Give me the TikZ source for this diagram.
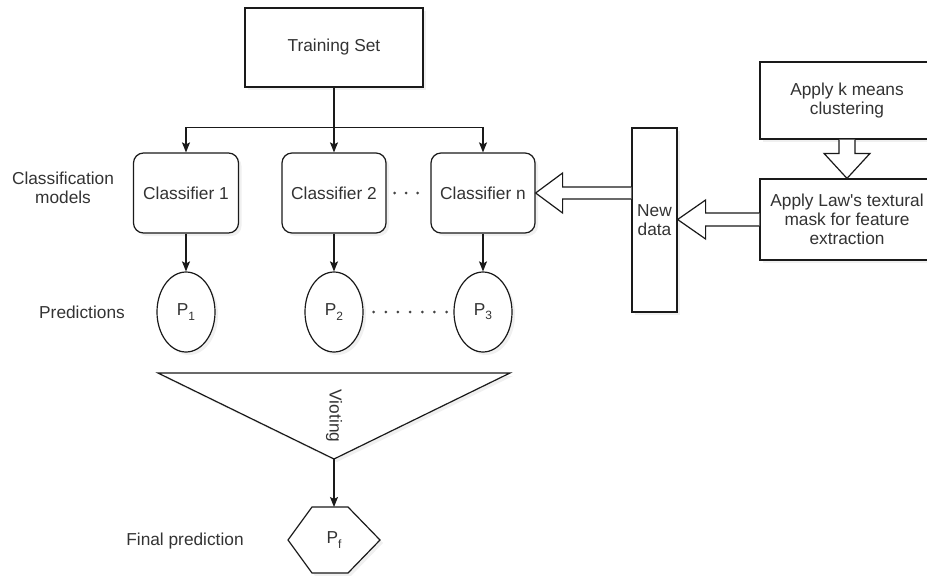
\documentclass[tikz,border=0pt]{standalone}
\usepackage{fontspec}
\setmainfont{Liberation Sans}[Ligatures=TeXOff]
\usetikzlibrary{arrows.meta,shadows,calc,shapes.geometric}
\definecolor{textc}{HTML}{333333}
\definecolor{linec}{HTML}{1A1A1A}
\definecolor{dotc}{HTML}{444444}
\newcommand\psub[1]{P\raisebox{-0.45ex}{\fontsize{12}{12}\selectfont #1}}
\begin{document}
\begin{tikzpicture}[x=1pt,y=-1pt,
  txt/.style={text=textc,font=\fontsize{17.3}{19}\selectfont},
  shad/.style={drop shadow={shadow xshift=3pt,shadow yshift=-3pt,opacity=0.12}},
  box/.style={draw=linec,line width=1.2pt,fill=white,shad,txt,align=center,inner sep=0pt},
  rbox/.style={box,rounded corners=10pt},
  ell/.style={box,ellipse},
  lbl/.style={txt,align=center},
  arr/.style={draw=linec,line width=1.2pt,-{Stealth[length=10pt,width=8pt,inset=2pt]}},
  blk/.style={draw=linec,line width=1.2pt,fill=white,line join=miter},
  dotl/.style={draw=dotc,line width=3pt,line cap=round,dash pattern=on 0pt off #1},
]
\useasboundingbox (0,0) rectangle (927,576);
\clip (0,0) rectangle (927,576);

% top box
\node[box,minimum width=178pt,minimum height=79pt] (ts) at (334,47.5) {Training Set};

% classifiers
\node[rbox,minimum width=105pt,minimum height=80pt] (c1) at (186,193) {Classifier 1};
\node[rbox,minimum width=104pt,minimum height=80pt] (c2) at (334,193) {Classifier 2};
\node[rbox,minimum width=104pt,minimum height=80pt] (cn) at (483,193) {Classifier n};

% predictions
\node[ell,minimum width=58pt,minimum height=80pt] (p1) at (186,312) {\psub{1}};
\node[ell,minimum width=58pt,minimum height=80pt] (p2) at (334,312) {\psub{2}};
\node[ell,minimum width=58pt,minimum height=80pt] (p3) at (483,312) {\psub{3}};

% right side
\node[box,minimum width=174pt,minimum height=77pt] (km) at (847,100.5) {Apply k means\\clustering};
\node[box,minimum width=174pt,minimum height=81pt] (law) at (847,219.5) {Apply Law's textural\\mask for feature\\extraction};
\node[box,minimum width=45pt,minimum height=184pt] (nd) at (654.5,220) {New\\data};

% left labels
\node[lbl] (lcm) at (63,188) {Classification\\models};
\node[lbl] (lpr) at (82,312) {Predictions};
\node[lbl] (lfp) at (185,541) {Final prediction};

% voting triangle
\coordinate (tl) at (158,373);
\coordinate (tr) at (510,373);
\coordinate (apex) at (334,459);
\path[blk,shad] (tl) -- (tr) -- (apex) -- cycle;
\node[txt,rotate=-90] (vote) at (334,416) {Vioting};

% final hexagon
\coordinate (h1) at (312,507);
\coordinate (h2) at (348,507);
\coordinate (h3) at (380,540);
\coordinate (h4) at (348,573);
\coordinate (h5) at (312,573);
\coordinate (h6) at (288,540);
\path[blk,shad] (h1) -- (h2) -- (h3) -- (h4) -- (h5) -- (h6) -- cycle;
\node[txt] (pf) at (334,540) {P\raisebox{-0.45ex}{\fontsize{12}{12}\selectfont f}};
\coordinate (pftop) at (334,507);

% connectors
\coordinate (hub) at ($(ts.south)+(0,40)$);
\draw[arr] (ts.south) -- (c2.north);
\draw[arr] (hub) -| (c1.north);
\draw[arr] (hub) -| (cn.north);
\draw[arr] (c1.south) -- (p1.north);
\draw[arr] (c2.south) -- (p2.north);
\draw[arr] (cn.south) -- (p3.north);
\draw[arr] (apex) -- (pftop);

% dotted lines
\draw[dotl=11.5pt,dash phase=3.5pt,shorten >=10pt] (c2.east) -- (cn.west);
\draw[dotl=12.17pt,dash phase=2.17pt,shorten >=5pt] (p2.east) -- (p3.west);

% block arrow: New data -> Classifier n
\coordinate (aT) at (cn.east);
\coordinate (aS) at (nd.west |- cn.east);
\path[blk] ($(aS)+(0,-6)$) -- ($(aT)+(27,-6)$) -- ($(aT)+(27,-20)$) -- (aT)
  -- ($(aT)+(27,20)$) -- ($(aT)+(27,6)$) -- ($(aS)+(0,6)$);

% block arrow: Law -> New data
\coordinate (bT) at (nd.east |- law.west);
\coordinate (bS) at (law.west);
\path[blk] ($(bS)+(0,-6.5)$) -- ($(bT)+(28,-6.5)$) -- ($(bT)+(28,-19.5)$) -- (bT)
  -- ($(bT)+(28,19.5)$) -- ($(bT)+(28,6.5)$) -- ($(bS)+(0,6.5)$);

% block arrow: k means -> Law
\coordinate (cT) at (law.north);
\coordinate (cS) at (km.south);
\path[blk] ($(cS)+(-8,0)$) -- ($(cT)+(-8,-25)$) -- ($(cT)+(-23,-25)$) -- (cT)
  -- ($(cT)+(23,-25)$) -- ($(cT)+(8,-25)$) -- ($(cS)+(8,0)$);
\end{tikzpicture}
\end{document}
